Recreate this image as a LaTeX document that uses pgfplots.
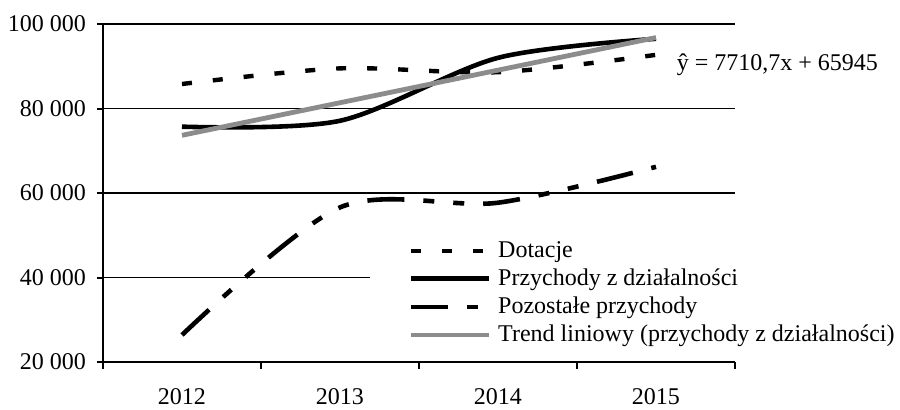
\documentclass[border=0pt]{standalone}
\usepackage{pgfplots}
\pgfplotsset{compat=1.18}
\usepackage{fontspec}
\setmainfont{Liberation Serif}
\begin{document}
\begin{tikzpicture}
\path[use as bounding box] (-51.5pt,-23.5pt) rectangle (398.5pt,181pt);
\begin{axis}[
  scale only axis,
  width=316pt, height=169pt,
  xmin=-0.5, xmax=3.5,
  ymin=20000, ymax=100000,
  axis x line=bottom, axis y line=left,
  axis line style={-, line width=1.3pt, black},
  xtick={0,1,2,3},
  xticklabels={2012,2013,2014,2015},
  minor xtick={-0.5,0.5,1.5,2.5,3.5},
  ytick={20000,40000,60000,80000,100000},
  yticklabels={20 000,40 000,60 000,80 000,100 000},
  scaled y ticks=false,
  tick align=outside,
  major tick length=3pt,
  minor tick length=3.3pt,
  x tick style={draw=none},
  minor x tick style={draw=black, line width=1.1pt},
  y tick style={line width=1pt, black},
  ymajorgrids,
  major grid style={line width=0.8pt, black},
  tick label style={font=\fontsize{12}{14}\selectfont},
  xticklabel style={yshift=-6.5pt},
  yticklabel style={xshift=-2pt},
  legend style={at={(0.4225,0.378)}, anchor=north west, draw=none, fill=white,
    font=\fontsize{12}{14}\selectfont, row sep=3.2pt, inner xsep=19pt, inner ysep=3pt,
    nodes={inner xsep=3.5pt, inner ysep=0.5pt}},
  legend cell align=left,
  legend image code/.code={\draw[#1] (0pt,0pt) -- (39pt,0pt);},
  clip=false,
]
\addplot[black, line width=2.2pt, smooth, tension=0.5, dash pattern=on 5pt off 10.5pt]
  coordinates {(0,85800) (1,89500) (2,88600) (3,92700)};
\addlegendentry{Dotacje}
\addplot[black, line width=2.3pt, smooth, tension=0.5]
  coordinates {(0,75700) (1,77100) (2,92000) (3,96500)};
\addlegendentry{Przychody z działalności}
\addplot[black, line width=2.3pt, smooth, tension=0.5,
  dash pattern=on 18.5pt off 9.5pt on 5.5pt off 9.5pt on 5.5pt off 9.5pt]
  coordinates {(0,26400) (1,56600) (2,57700) (3,66200)};
\addlegendentry{Pozostałe przychody}
\addplot[black!45, line width=2.4pt]
  coordinates {(0,73656) (1,81366) (2,89077) (3,96788)};
\addlegendentry{Trend liniowy (przychody z działalności)}
\node[anchor=west, inner sep=0pt, font=\fontsize{12}{14}\selectfont] at (axis cs:3.13,90300) {ŷ = 7710,7x + 65945};
\end{axis}
\end{tikzpicture}
\end{document}
